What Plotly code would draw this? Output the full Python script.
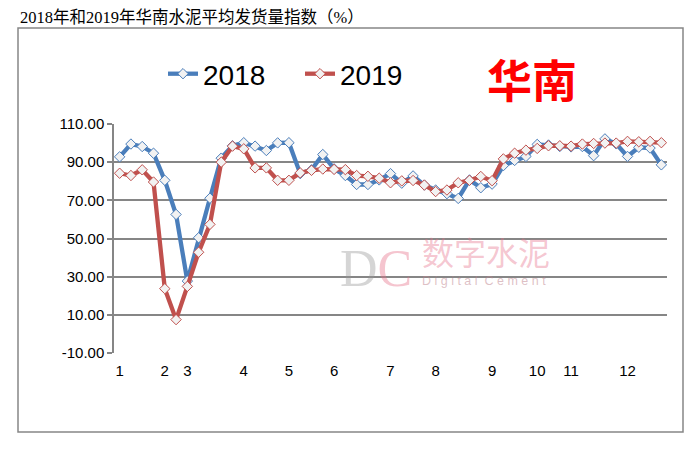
import plotly.graph_objects as go

# ---- data ----
weeks = list(range(49))
month_tick_pos = [0, 4, 6, 11, 15, 19, 24, 28, 33, 37, 40, 45]
month_labels = ["1", "2", "3", "4", "5", "6", "7", "8", "9", "10", "11", "12"]
y_tick_vals = [-10, 10, 30, 50, 70, 90, 110]
y_tick_text = ["-10.00", "10.00", "30.00", "50.00", "70.00", "90.00", "110.00"]

s2018 = [92.8, 99.5, 98.2, 94.7, 80.5, 62.6, 27.7, 50.4, 71.1, 92.1,
         98.6, 100.2, 98.4, 96.1, 100.1, 100.2, 84.0, 86.0, 94.0, 86.5,
         83.0, 78.3, 78.3, 80.7, 84.0, 79.0, 82.8, 78.0, 75.4, 73.5,
         71.0, 80.7, 76.6, 78.5, 88.2, 90.9, 93.0, 99.3, 99.0, 98.2,
         98.0, 98.2, 93.4, 102.2, 99.6, 93.0, 97.8, 97.4, 88.6]
s2019 = [84.2, 83.0, 86.0, 79.6, 23.7, 7.5, 24.9, 42.8, 57.4, 90.0,
         98.4, 97.0, 87.0, 87.0, 80.5, 80.5, 84.4, 85.7, 86.4, 86.2,
         86.1, 83.0, 82.6, 81.6, 79.2, 80.2, 80.4, 78.0, 74.6, 75.4,
         79.2, 80.5, 82.5, 80.3, 91.7, 94.7, 96.3, 97.2, 98.6, 98.6,
         98.4, 99.5, 99.8, 100.0, 100.0, 100.9, 100.7, 100.9, 100.2]

title_text = "2018年和2019年华南水泥平均发货量指数（%）"

# ---- geometry helpers (pixels -> paper) ----
W, H = 692, 449
L, R, T, B = 114, 667, 124, 353
def xp(px):
    return (px - L) / (R - L)
def yp(py):
    return (B - py) / (B - T)

YMIN, YMAX = -10, 110
XRANGE = [-0.5, 48.5]
GRID = "#868686"

fig = go.Figure()
fig.add_trace(go.Scatter(
    x=weeks, y=s2018, name="2018", mode="lines+markers",
    line=dict(color="#4A7EBB", width=4.3),
    marker=dict(symbol="diamond", size=8, color="#F2F2F2",
                line=dict(color="#4A7EBB", width=1)),
))
fig.add_trace(go.Scatter(
    x=weeks, y=s2019, name="2019", mode="lines+markers",
    line=dict(color="#C0504D", width=4.3),
    marker=dict(symbol="diamond", size=8, color="#F2F2F2",
                line=dict(color="#C0504D", width=1)),
))

fig.update_layout(
    width=W, height=H,
    margin=dict(l=L, r=W - R, t=T, b=H - B, pad=0),
    paper_bgcolor="white", plot_bgcolor="white",
    title=dict(text=title_text, x=20 / W, xanchor="left", xref="container",
               y=1 - 17 / H, yanchor="middle", yref="container",
               font=dict(family="Liberation Serif, Noto Sans CJK SC", size=16.5, color="black")),
    showlegend=True,
    legend=dict(orientation="h", x=xp(163), xanchor="left", y=yp(74), yanchor="middle",
                font=dict(family="Liberation Sans, Arial", size=28, color="black"),
                bgcolor="rgba(0,0,0,0)", itemwidth=30, traceorder="normal",
                entrywidth=92, entrywidthmode="pixels"),
    xaxis=dict(range=XRANGE, tickvals=month_tick_pos, ticktext=month_labels,
               showgrid=False, zeroline=False, showline=False,
               ticks="outside", ticklen=4, tickcolor="rgba(0,0,0,0)",
               tickfont=dict(family="Liberation Sans, Arial", size=15, color="black")),
    xaxis2=dict(range=XRANGE, overlaying="x", anchor="free", position=(0 - YMIN) / (YMAX - YMIN),
                tickvals=[i - 0.5 for i in range(50)], ticks="outside", ticklen=4,
                tickcolor=GRID, tickwidth=1, showticklabels=False, showgrid=False,
                zeroline=False, showline=True, linecolor=GRID, linewidth=1.5),
    yaxis=dict(range=[YMIN, YMAX], tickvals=y_tick_vals, ticktext=y_tick_text,
               showgrid=True, gridcolor=GRID, gridwidth=1.5, zeroline=False,
               showline=True, linecolor=GRID, linewidth=1.5,
               ticks="outside", ticklen=5, tickcolor=GRID, tickwidth=1.5,
               tickfont=dict(family="Liberation Sans, Arial", size=15, color="black")),
)

# outer frame
fig.add_shape(type="rect", xref="paper", yref="paper",
              x0=xp(18), x1=xp(683), y0=yp(432), y1=yp(28),
              line=dict(color=GRID, width=1.5), fillcolor="rgba(0,0,0,0)", layer="below")

# region label
fig.add_annotation(text="<b>华南</b>", xref="paper", yref="paper", x=xp(532), y=yp(78),
                   showarrow=False, xanchor="center", yanchor="middle",
                   font=dict(family="Noto Sans CJK SC", size=45, color="#FF0000"))

# watermark
fig.add_annotation(text="<span style='color:rgba(150,150,150,0.4)'>D</span>"
                        "<span style='color:rgba(230,110,135,0.4)'>C</span>",
                   xref="paper", yref="paper", x=xp(414), y=yp(268), xanchor="right",
                   showarrow=False, font=dict(family="Liberation Serif", size=52))
fig.add_annotation(text="数字水泥", xref="paper", yref="paper", x=xp(420), y=yp(251),
                   xanchor="left", showarrow=False,
                   font=dict(family="Noto Sans CJK SC", size=32, color="rgba(230,110,135,0.4)"))
fig.add_annotation(text="D i g i t a l  C e m e n t", xref="paper", yref="paper", x=xp(420), y=yp(290),
                   xanchor="left", showarrow=False,
                   font=dict(family="Liberation Sans", size=12.5, color="rgba(190,130,140,0.5)"))

fig.write_html("out.html", post_script="document.body.style.margin='0px';",
               config={"displayModeBar": False})
